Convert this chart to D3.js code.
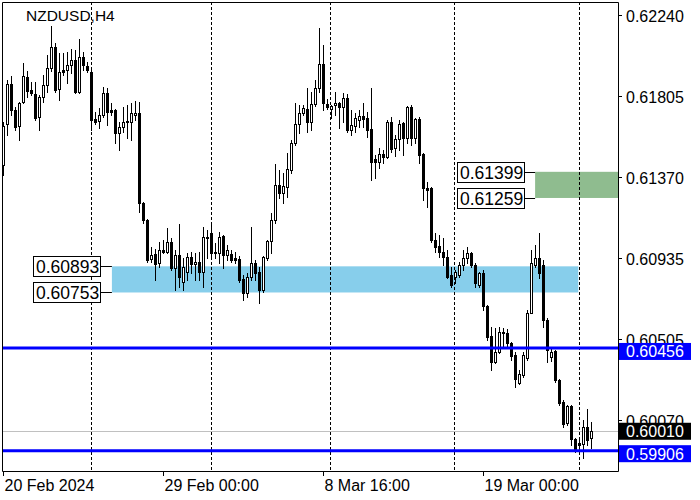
<!DOCTYPE html>
<html><head><meta charset="utf-8">
<script src="https://cdn.jsdelivr.net/npm/d3@7/dist/d3.min.js"></script>
<style>body{margin:0;background:#fff}svg{display:block}text{font-family:"Liberation Sans",Arial,sans-serif}</style>
</head><body><svg id="c" width="700" height="500"></svg>
<script>
const symbolTitle = "NZDUSD,H4";
const open = [0.61436,0.61655,0.61869,0.61730,0.61645,0.61773,0.61907,0.61837,0.61816,0.61693,
0.61800,0.61864,0.61955,0.62067,0.61843,0.61944,0.61944,0.61971,0.61998,0.61827,
0.62014,0.61966,0.61934,0.61682,0.61671,0.61703,0.61821,0.61730,0.61730,0.61607,
0.61639,0.61671,0.61666,0.61703,0.61714,0.61232,0.61141,0.60933,0.60959,0.60911,
0.60981,0.60970,0.61024,0.60884,0.60954,0.60809,0.60863,0.60943,0.60906,0.60917,
0.60863,0.61050,0.61072,0.60970,0.60965,0.61056,0.60954,0.60959,0.60938,0.60933,
0.60826,0.60751,0.60836,0.60911,0.60863,0.60767,0.60938,0.61029,0.61141,0.61329,
0.61286,0.61318,0.61409,0.61553,0.61655,0.61714,0.61736,0.61666,0.61762,0.61848,
0.61976,0.61762,0.61736,0.61757,0.61768,0.61746,0.61794,0.61623,0.61645,0.61677,
0.61698,0.61687,0.61628,0.61468,0.61452,0.61495,0.61479,0.61666,0.61527,0.61575,
0.61661,0.61580,0.61746,0.61580,0.61682,0.61495,0.61313,0.61313,0.61034,0.61002,
0.60970,0.60943,0.60847,0.60836,0.60847,0.60900,0.60938,0.60965,0.60900,0.60793,
0.60858,0.60681,0.60520,0.60381,0.60435,0.60542,0.60536,0.60483,0.60419,0.60269,
0.60312,0.60403,0.60644,0.60900,0.60938,0.60900,0.60606,0.60408,0.60440,0.60285,
0.60167,0.60055,0.60146,0.59969,0.59948,0.59942,0.60033,0.59974];
const high = [0.61666,0.61891,0.61912,0.61746,0.61773,0.61982,0.61939,0.61880,0.61880,0.61810,
0.61918,0.62025,0.62180,0.62089,0.62035,0.62035,0.62041,0.62057,0.62051,0.62110,
0.62041,0.61987,0.61955,0.61719,0.61741,0.61853,0.61848,0.61768,0.61736,0.61666,
0.61746,0.61757,0.61768,0.61778,0.61773,0.61238,0.61147,0.60997,0.60986,0.61024,
0.61034,0.61098,0.61045,0.60981,0.61120,0.60938,0.60965,0.60970,0.60965,0.60970,
0.61104,0.61088,0.61115,0.61018,0.61077,0.61061,0.61008,0.60981,0.60970,0.60949,
0.60847,0.60858,0.61104,0.60927,0.60890,0.60949,0.61034,0.61179,0.61441,0.61409,
0.61393,0.61500,0.61570,0.61768,0.61757,0.61757,0.61848,0.61827,0.61891,0.62169,
0.62078,0.61789,0.61757,0.61827,0.61773,0.61821,0.61816,0.61730,0.61714,0.61730,
0.61768,0.61719,0.61848,0.61489,0.61527,0.61516,0.61677,0.61693,0.61596,0.61677,
0.61666,0.61752,0.61757,0.61687,0.61693,0.61500,0.61345,0.61318,0.61072,0.61061,
0.61045,0.60981,0.60890,0.60874,0.60917,0.60981,0.60997,0.60970,0.60911,0.60863,
0.60874,0.60686,0.60569,0.60563,0.60569,0.60563,0.60558,0.60488,0.60435,0.60338,
0.60435,0.60660,0.60981,0.61008,0.61072,0.60927,0.60617,0.60456,0.60445,0.60290,
0.60178,0.60151,0.60151,0.59974,0.59964,0.60071,0.60130,0.60060];
const low = [0.61382,0.61596,0.61703,0.61623,0.61570,0.61768,0.61800,0.61810,0.61677,0.61623,
0.61773,0.61827,0.61939,0.61827,0.61784,0.61918,0.61875,0.61928,0.61821,0.61821,
0.61944,0.61934,0.61623,0.61655,0.61634,0.61693,0.61650,0.61703,0.61553,0.61516,
0.61612,0.61580,0.61570,0.61677,0.61184,0.61125,0.60917,0.60917,0.60820,0.60890,
0.60965,0.60965,0.60874,0.60767,0.60783,0.60767,0.60820,0.60858,0.60820,0.60820,
0.60783,0.60938,0.60938,0.60938,0.60911,0.60884,0.60927,0.60917,0.60911,0.60809,
0.60713,0.60729,0.60820,0.60820,0.60697,0.60756,0.60927,0.60965,0.61125,0.61259,
0.61232,0.61264,0.61393,0.61543,0.61607,0.61703,0.61612,0.61623,0.61752,0.61827,
0.61730,0.61736,0.61687,0.61703,0.61634,0.61666,0.61612,0.61596,0.61612,0.61639,
0.61639,0.61586,0.61355,0.61366,0.61420,0.61446,0.61473,0.61505,0.61484,0.61516,
0.61489,0.61553,0.61543,0.61553,0.61446,0.61248,0.61211,0.61024,0.60970,0.60943,
0.60900,0.60831,0.60783,0.60804,0.60836,0.60874,0.60911,0.60890,0.60783,0.60783,
0.60660,0.60499,0.60338,0.60376,0.60429,0.60461,0.60456,0.60392,0.60247,0.60263,
0.60301,0.60392,0.60644,0.60890,0.60831,0.60569,0.60381,0.60387,0.60274,0.60151,
0.60033,0.60044,0.59937,0.59899,0.59894,0.59867,0.59937,0.59921];
const close = [0.61645,0.61869,0.61730,0.61639,0.61768,0.61912,0.61832,0.61821,0.61687,0.61800,
0.61864,0.61955,0.62067,0.61837,0.61934,0.61934,0.61971,0.61998,0.61827,0.62014,
0.61971,0.61944,0.61677,0.61666,0.61703,0.61821,0.61719,0.61719,0.61607,0.61639,
0.61666,0.61666,0.61714,0.61714,0.61232,0.61141,0.60927,0.60954,0.60906,0.60981,
0.60970,0.61024,0.60884,0.60954,0.60836,0.60890,0.60943,0.60906,0.60917,0.60863,
0.61050,0.61045,0.60965,0.60965,0.61050,0.60954,0.60981,0.60927,0.60927,0.60820,
0.60751,0.60836,0.60911,0.60858,0.60767,0.60943,0.61029,0.61141,0.61329,0.61286,
0.61323,0.61414,0.61553,0.61655,0.61714,0.61741,0.61666,0.61762,0.61848,0.61976,
0.61768,0.61746,0.61752,0.61768,0.61746,0.61794,0.61623,0.61650,0.61687,0.61698,
0.61682,0.61623,0.61452,0.61452,0.61495,0.61479,0.61666,0.61521,0.61575,0.61655,
0.61580,0.61746,0.61580,0.61682,0.61489,0.61313,0.61302,0.61034,0.60997,0.60970,
0.60943,0.60836,0.60793,0.60863,0.60900,0.60938,0.60965,0.60900,0.60804,0.60858,
0.60681,0.60515,0.60381,0.60435,0.60542,0.60536,0.60483,0.60413,0.60290,0.60317,
0.60419,0.60644,0.60911,0.60938,0.60858,0.60606,0.60445,0.60435,0.60285,0.60162,
0.60049,0.60146,0.59969,0.59910,0.59937,0.60033,0.59964,0.60010];

const priceTicks = [0.62240, 0.61805, 0.61370, 0.60935, 0.60505, 0.60070];
const timeLabels = ["20 Feb 2024", "29 Feb 00:00", "8 Mar 16:00", "19 Mar 00:00"];
const timeLabelIdx = [0, 40, 80, 120];
const gridIdx = [22, 52, 82, 113, 144];
const hLevels = [0.60456, 0.59906];
const bidPrice = 0.60010;
const zoneBlue = {from: 27.1, to: 143.7, top: 0.60893, bottom: 0.60753};
const zoneGreen = {from: 132.9, to: 160, top: 0.61399, bottom: 0.61259};

const W = 700, H = 500;
const L = 2, R = 618, T = 2, B = 471;
const svg = d3.select("#c");
svg.append("rect").attr("width", W).attr("height", H).attr("fill", "#fff");

const x = d3.scaleLinear().domain([0, 147]).range([3.5, 591.5]);
const y = d3.scaleLinear().domain([0.597973, 0.623188]).range([B, 0]);

const defs = svg.append("defs");
defs.append("clipPath").attr("id", "plot").append("rect")
  .attr("x", L).attr("y", T).attr("width", R - L).attr("height", B - T);

const g = svg.append("g").attr("clip-path", "url(#plot)");

// zones
[[zoneBlue, "#87CEEB"], [zoneGreen, "#8FBC8F"]].forEach(([z, c]) => {
  g.append("rect")
    .attr("x", x(z.from)).attr("width", x(z.to) - x(z.from))
    .attr("y", y(z.top)).attr("height", y(z.bottom) - y(z.top))
    .attr("fill", c);
});

// grid
g.selectAll("line.grid").data(gridIdx).join("line").attr("class", "grid")
  .attr("x1", d => Math.round(x(d)) - 0.5).attr("x2", d => Math.round(x(d)) - 0.5)
  .attr("y1", T).attr("y2", B)
  .attr("stroke", "#000").attr("stroke-width", 1).attr("stroke-dasharray", "3,2");

// bid line
g.append("line").attr("x1", L).attr("x2", R)
  .attr("y1", Math.round(y(bidPrice)) + 0.5).attr("y2", Math.round(y(bidPrice)) + 0.5)
  .attr("stroke", "#C0C0C0").attr("stroke-width", 1);

// candles
const idx = d3.range(open.length);
const cx = i => Math.round(x(i) - 0.5);
g.selectAll("line.wick").data(idx).join("line").attr("class", "wick")
  .attr("x1", i => cx(i) + 0.5).attr("x2", i => cx(i) + 0.5)
  .attr("y1", i => Math.round(y(high[i]))).attr("y2", i => Math.round(y(low[i])) + 1)
  .attr("stroke", "#000").attr("stroke-width", 1);
g.selectAll("rect.body").data(idx).join("rect").attr("class", "body")
  .each(function(i) {
    const top = Math.round(y(Math.max(open[i], close[i])));
    const bot = Math.round(y(Math.min(open[i], close[i])));
    const bull = close[i] > open[i];
    const s = d3.select(this);
    if (bull) {
      s.attr("x", cx(i) - 0.5).attr("width", 2).attr("y", top + 0.5).attr("height", Math.max(bot - top, 1))
        .attr("fill", "#fff").attr("stroke", "#000").attr("stroke-width", 1);
    } else {
      s.attr("x", cx(i) - 1).attr("width", 3).attr("y", top).attr("height", Math.max(bot - top + 1, 1))
        .attr("fill", "#000");
    }
  });

// horizontal levels
g.selectAll("line.lvl").data(hLevels).join("line").attr("class", "lvl")
  .attr("x1", L).attr("x2", R).attr("y1", d => y(d)).attr("y2", d => y(d))
  .attr("stroke", "#0000FF").attr("stroke-width", 3);

// zone price labels
function zoneLabel(px, pyPrice, xEnd) {
  const yy = Math.round(y(pyPrice)) + 0.5;
  const bw = 67, bh = 20;
  svg.append("line").attr("x1", px + bw).attr("x2", xEnd).attr("y1", yy).attr("y2", yy).attr("stroke", "#000");
  svg.append("rect").attr("x", px + 0.5).attr("y", yy - bh / 2).attr("width", bw).attr("height", bh)
    .attr("fill", "#fff").attr("stroke", "#000");
  svg.append("text").attr("x", px + 3).attr("y", yy + 6.5).attr("font-size", 17.5).attr("fill", "#000")
    .text(d3.format(".5f")(pyPrice));
}
zoneLabel(33, zoneBlue.top, x(zoneBlue.from));
zoneLabel(33, zoneBlue.bottom, x(zoneBlue.from));
zoneLabel(457, zoneGreen.top, x(zoneGreen.from));
zoneLabel(457, zoneGreen.bottom, x(zoneGreen.from));

// frame
svg.append("path").attr("d", `M${L + 0.5},${T + 0.5}H${R + 0.5}V${B + 0.5}H${L + 0.5}Z`)
  .attr("fill", "none").attr("stroke", "#000");

// title
svg.append("text").attr("x", 26).attr("y", 21).attr("font-size", 15.5).attr("fill", "#000").text(symbolTitle);

// price axis
const pa = svg.append("g");
priceTicks.forEach(p => {
  const yy = Math.round(y(p)) + 0.5;
  pa.append("line").attr("x1", R).attr("x2", R + 4).attr("y1", yy).attr("y2", yy).attr("stroke", "#000");
  pa.append("text").attr("x", 626).attr("y", yy + 6).attr("font-size", 16).attr("fill", "#000")
    .text(d3.format(".5f")(p));
});

// price boxes on axis
function priceBox(p, color, shift) {
  const yc = y(p) + shift;
  pa.append("rect").attr("x", R + 1).attr("y", yc - 8.5).attr("width", 72).attr("height", 17).attr("fill", color);
  pa.append("text").attr("x", 626).attr("y", yc + 6).attr("font-size", 16).attr("fill", "#fff")
    .text(d3.format(".5f")(p));
}
priceBox(hLevels[0], "#0000FF", 3.5);
priceBox(bidPrice, "#000", 0);
priceBox(hLevels[1], "#0000FF", 3);

// time axis
const ta = svg.append("g");
timeLabelIdx.forEach((d, k) => {
  const xx = Math.round(x(d)) - 0.5;
  ta.append("line").attr("x1", xx).attr("x2", xx).attr("y1", B).attr("y2", B + 5).attr("stroke", "#000");
  ta.append("text").attr("x", xx + 1).attr("y", 491).attr("font-size", 16).attr("fill", "#000").text(timeLabels[k]);
});
</script></body></html>
